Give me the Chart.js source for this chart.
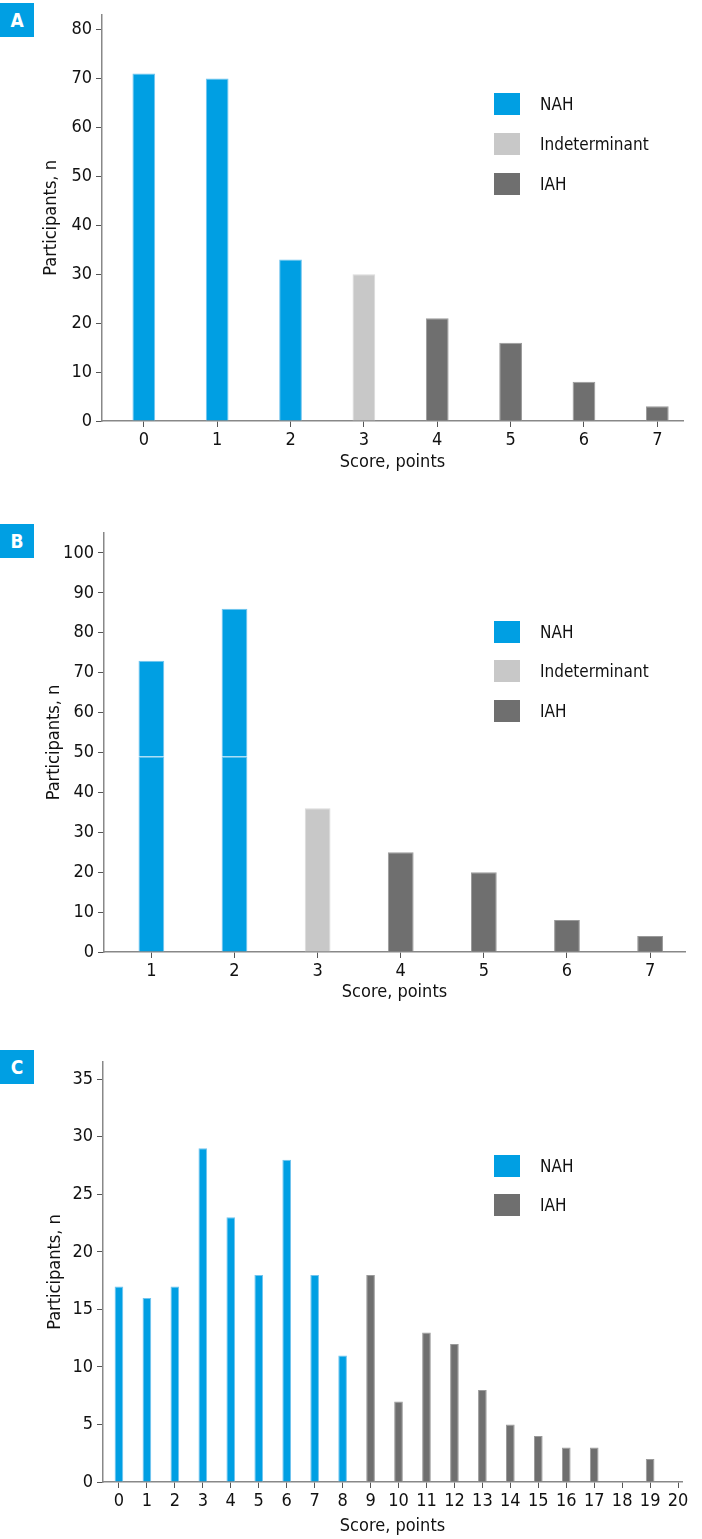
<!DOCTYPE html>
<html>
<head>
<meta charset="utf-8">
<script src="https://cdn.jsdelivr.net/npm/chart.js@4.4.1/dist/chart.umd.min.js"></script>
<style>
  body {
    margin: 0;
    width: 702px;
    height: 1539px;
    background: #fff;
    position: relative;
    overflow: hidden;
    font-family: "Liberation Sans Narrow", "DejaVu Sans Condensed", Roboto, sans-serif;
    color: #111;
  }
  canvas { position: absolute; left: 0; }
  .tag {
    position: absolute;
    left: 0;
    width: 34px;
    height: 34px;
    background: #009fe3;
    color: #fff;
    font-weight: bold;
    font-size: 19px;
    line-height: 34px;
    text-align: center;
  }
  .row {
    position: absolute;
    left: 494px;
    height: 22px;
    display: flex;
    align-items: center;
    font-size: 17px;
    white-space: nowrap;
  }
  .row .box { width: 26px; height: 22px; margin-right: 20px; }
</style>
</head>
<body>
<div class="tag" style="top:3px">A</div>
<div class="tag" style="top:524px">B</div>
<div class="tag" style="top:1050px">C</div>
<canvas id="chartA" width="702" height="480" style="top:0"></canvas>
<canvas id="chartB" width="702" height="510" style="top:500px"></canvas>
<canvas id="chartC" width="702" height="499" style="top:1040px"></canvas>

<script>
// ---- data ----
const scoresA = [0, 1, 2, 3, 4, 5, 6, 7];
const nahA = [71, 70, 33, null, null, null, null, null];
const indA = [null, null, null, 30, null, null, null, null];
const iahA = [null, null, null, null, 21, 16, 8, 3];
const yTicksA = [0, 10, 20, 30, 40, 50, 60, 70, 80];

const scoresB = [1, 2, 3, 4, 5, 6, 7];
const nahLowB = [49, 49, null, null, null, null, null];
const nahTopB = [24, 37, null, null, null, null, null];
const indB = [null, null, 36, null, null, null, null];
const iahB = [null, null, null, 25, 20, 8, 4];
const yTicksB = [0, 10, 20, 30, 40, 50, 60, 70, 80, 90, 100];

const scoresC = [0, 1, 2, 3, 4, 5, 6, 7, 8, 9, 10, 11, 12, 13, 14, 15, 16, 17, 18, 19, 20];
const nahC = [17, 16, 17, 29, 23, 18, 28, 18, 11, null, null, null, null, null, null, null, null, null, null, null, null];
const iahC = [null, null, null, null, null, null, null, null, null, 18, 7, 13, 12, 8, 5, 4, 3, 3, 0, 2, 0];
const yTicksC = [0, 5, 10, 15, 20, 25, 30, 35];

const BLUE = "#009fe3";
const LIGHT = "#c8c8c8";
const DARK = "#6f6f6f";

Chart.defaults.font.family = '"Liberation Sans Narrow", "DejaVu Sans Condensed", Roboto, sans-serif';
Chart.defaults.color = "#111";

function pts(xs, ys) {
  return xs.map((x, i) => ({ x: x, y: ys[i] }));
}

function bars(label, xs, ys, color, border) {
  return {
    label: label,
    data: pts(xs, ys),
    backgroundColor: color,
    borderColor: border,
    borderWidth: 1,
    barPercentage: 0.31,
    categoryPercentage: 1,
  };
}

function options(p) {
  return {
    responsive: false,
    animation: false,
    layout: { padding: p.pad },
    plugins: { legend: { display: false }, tooltip: { enabled: false } },
    scales: {
      x: {
        type: "linear",
        stacked: true,
        offset: false,
        min: p.xMin,
        max: p.xMax,
        afterBuildTicks: (s) => { s.ticks = p.xTicks.map((v) => ({ value: v })); },
        afterFit: (s) => { s.height = p.xHeight; },
        grid: { offset: false, drawOnChartArea: false, tickLength: 6, color: "#555" },
        border: { color: "#888", width: 1.5 },
        ticks: { padding: 3, font: { size: 18 }, autoSkip: false, maxRotation: 0 },
        title: { display: true, text: "Score, points", font: { size: 18 }, padding: 0 },
      },
      y: {
        stacked: true,
        min: 0,
        max: p.yMax,
        afterBuildTicks: (s) => { s.ticks = p.yTicks.map((v) => ({ value: v })); },
        afterFit: (s) => { s.width = p.yWidth; },
        grid: { drawOnChartArea: false, tickLength: 6, color: "#555" },
        border: { color: "#888", width: 1.5 },
        ticks: { padding: 4, font: { size: 18 } },
        title: {
          display: true,
          text: "Participants, n",
          font: { size: 18 },
          padding: { top: p.titlePad, bottom: 0 },
        },
      },
    },
  };
}

// HTML legend inside the plot area
function legend(items, tops) {
  items.forEach((it, i) => {
    const row = document.createElement("div");
    row.className = "row";
    row.style.top = tops[i] + "px";
    const box = document.createElement("span");
    box.className = "box";
    box.style.background = it.color;
    row.appendChild(box);
    row.appendChild(document.createTextNode(it.label));
    document.body.appendChild(row);
  });
}

// ---- panel A ----
new Chart(document.getElementById("chartA"), {
  type: "bar",
  data: {
    datasets: [
      bars("NAH", scoresA, nahA, BLUE, "#72c4ee"),
      bars("Indeterminant", scoresA, indA, LIGHT, "#dadada"),
      bars("IAH", scoresA, iahA, DARK, "#9a9a9a"),
    ],
  },
  options: options({
    pad: { top: 3, right: 19, bottom: 7, left: 0 },
    xMin: -0.57, xMax: 7.35, xTicks: scoresA, xHeight: 52,
    yMax: 83, yTicks: yTicksA, yWidth: 102, titlePad: 41,
  }),
});

// ---- panel B ----
new Chart(document.getElementById("chartB"), {
  type: "bar",
  data: {
    datasets: [
      bars("NAH", scoresB, nahLowB, BLUE, "#72c4ee"),
      bars("NAH", scoresB, nahTopB, BLUE, "#72c4ee"),
      bars("Indeterminant", scoresB, indB, LIGHT, "#dadada"),
      bars("IAH", scoresB, iahB, DARK, "#9a9a9a"),
    ],
  },
  options: options({
    pad: { top: 33, right: 17, bottom: 7, left: 0 },
    xMin: 0.43, xMax: 7.42, xTicks: scoresB, xHeight: 51,
    yMax: 105, yTicks: yTicksB, yWidth: 104, titlePad: 44,
  }),
});

// ---- panel C ----
new Chart(document.getElementById("chartC"), {
  type: "bar",
  data: {
    datasets: [
      bars("NAH", scoresC, nahC, BLUE, "#72c4ee"),
      bars("IAH", scoresC, iahC, DARK, "#9a9a9a"),
    ],
  },
  options: options({
    pad: { top: 22, right: 20, bottom: 2, left: 0 },
    xMin: -0.57, xMax: 20.14, xTicks: scoresC, xHeight: 55,
    yMax: 36.5, yTicks: yTicksC, yWidth: 103, titlePad: 45,
  }),
});

legend([{ label: "NAH", color: BLUE }, { label: "Indeterminant", color: LIGHT }, { label: "IAH", color: DARK }], [93, 133, 173]);
legend([{ label: "NAH", color: BLUE }, { label: "Indeterminant", color: LIGHT }, { label: "IAH", color: DARK }], [621, 660, 700]);
legend([{ label: "NAH", color: BLUE }, { label: "IAH", color: DARK }], [1155, 1194]);
</script>
</body>
</html>
